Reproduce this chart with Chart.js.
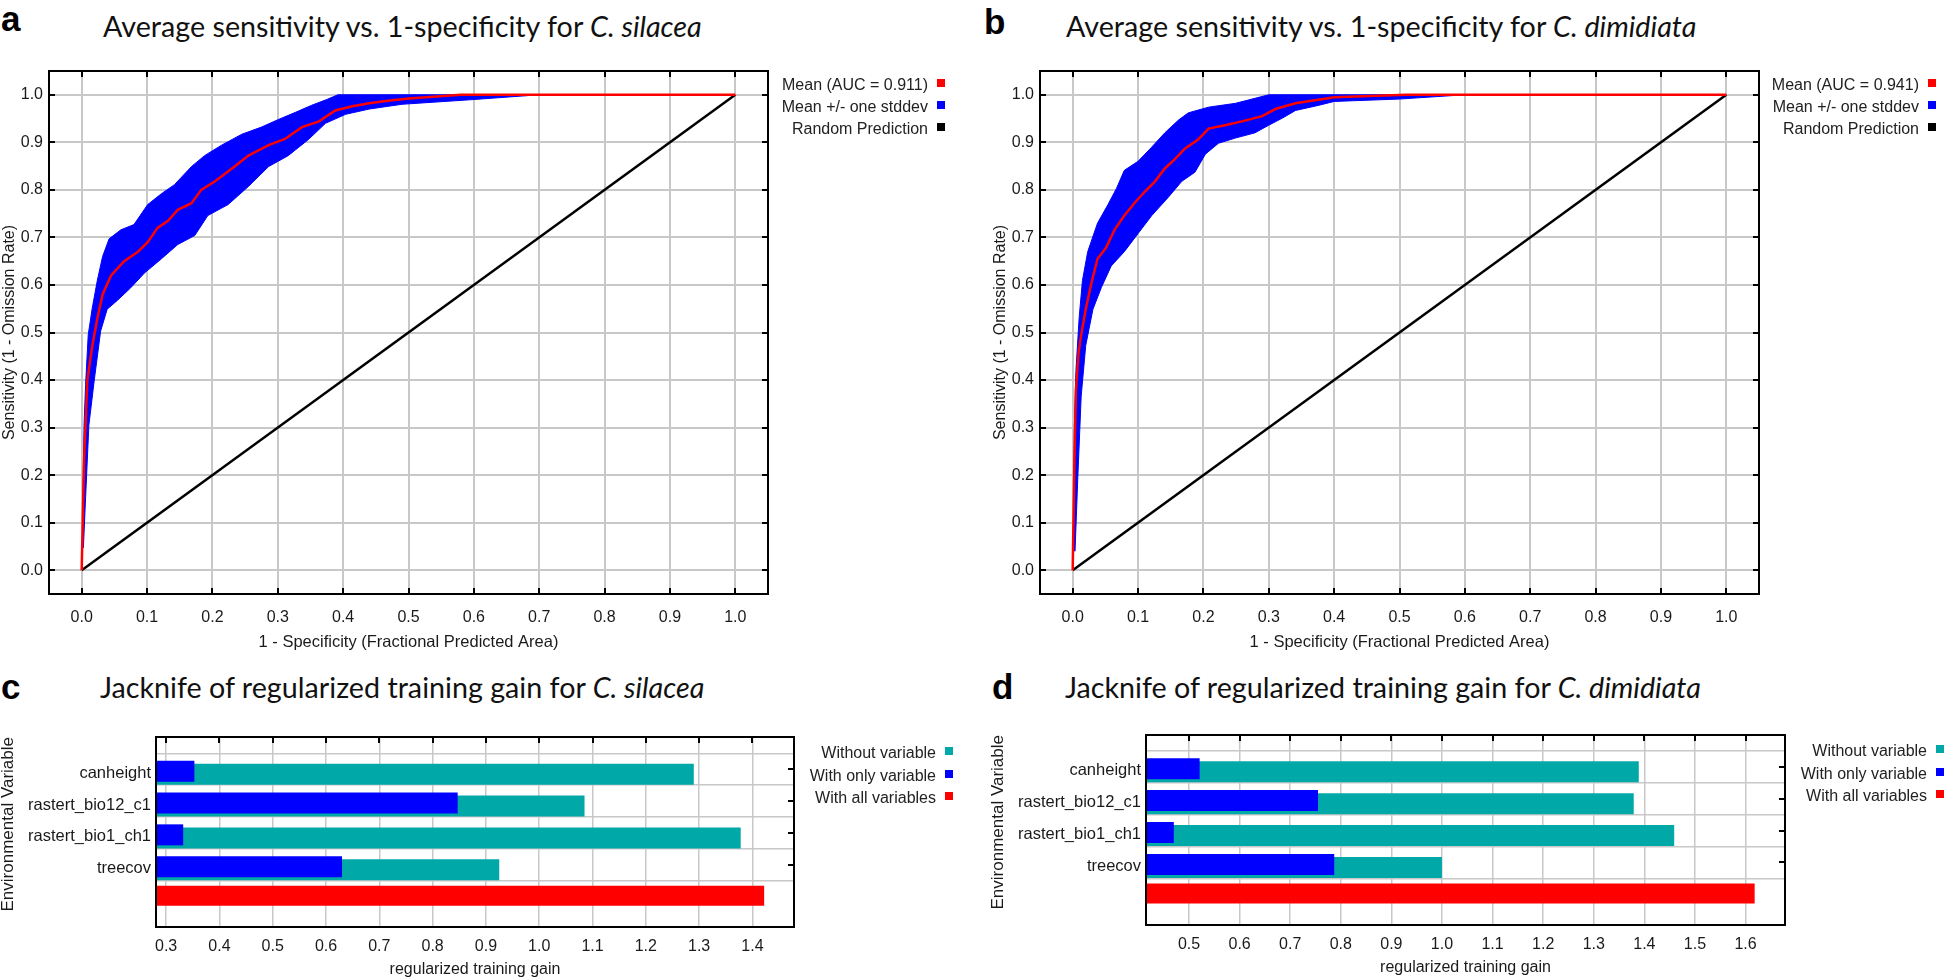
<!DOCTYPE html>
<html>
<head>
<meta charset="utf-8">
<title>ROC curves and jackknife of training gain</title>
<script src="https://cdn.jsdelivr.net/npm/chart.js@4.4.1/dist/chart.umd.min.js"></script>
<style>
  body { margin: 0; width: 1946px; height: 980px; background: #fff; position: relative; overflow: hidden;
         font-family: "Liberation Sans", Arial, sans-serif; color: #111; }
  canvas { position: absolute; }
  .tag { position: absolute; font: bold 35px/35px "Liberation Sans", Arial, sans-serif; color: #000; }
  .title { position: absolute; font: 28.7px/30px Lato, sans-serif; color: #111; white-space: nowrap; }
  .legend { position: absolute; width: 260px; text-align: right; font: 16px/22px "Liberation Sans", Arial, sans-serif;
            color: #222; white-space: nowrap; }
  .legend .sq { display: inline-block; width: 8px; height: 8px; margin-left: 9px; vertical-align: 3px; }
</style>
</head>
<body>

<div class="tag" style="left:1px;top:1px">a</div>
<div class="title" style="left:103px;top:11px">Average sensitivity vs. 1-specificity for <i>C. silacea</i></div>
<div class="tag" style="left:984px;top:4px">b</div>
<div class="title" style="left:1066px;top:11px">Average sensitivity vs. 1-specificity for <i>C. dimidiata</i></div>
<div class="tag" style="left:1px;top:669px">c</div>
<div class="title" style="left:100px;top:672px">Jacknife of regularized training gain for <i>C. silacea</i></div>
<div class="tag" style="left:992px;top:669px">d</div>
<div class="title" style="left:1065px;top:672px">Jacknife of regularized training gain for <i>C. dimidiata</i></div>

<canvas id="rocA" width="772" height="600" style="left:0;top:60px"></canvas>
<canvas id="rocB" width="772" height="600" style="left:991px;top:60px"></canvas>
<canvas id="jackC" width="800" height="280" style="left:0;top:700px"></canvas>
<canvas id="jackD" width="800" height="280" style="left:990px;top:700px"></canvas>

<div class="legend" id="legA" style="left:685px;top:74px"></div>
<div class="legend" id="legB" style="left:1676px;top:74px"></div>
<div class="legend" id="legC" style="left:693px;top:742px;line-height:22.5px"></div>
<div class="legend" id="legD" style="left:1684px;top:740px;line-height:22.5px"></div>

<script>
// ---- ROC panels (a, b) ----
const rocTicks = [0, 0.1, 0.2, 0.3, 0.4, 0.5, 0.6, 0.7, 0.8, 0.9, 1.0];
const rocTickLabels = ['0.0', '0.1', '0.2', '0.3', '0.4', '0.5', '0.6', '0.7', '0.8', '0.9', '1.0'];
const randomX = [0, 1];
const randomY = [0, 1];

const silaceaAuc = 0.911;
const silaceaMeanX = [0, 0.0036, 0.0087, 0.016, 0.024, 0.032, 0.045, 0.065, 0.086, 0.101, 0.116, 0.132, 0.147, 0.168,
  0.183, 0.204, 0.234, 0.255, 0.286, 0.311, 0.337, 0.363, 0.388, 0.414, 0.44, 0.465, 0.5, 0.58, 1.0];
const silaceaMeanY = [0, 0.23, 0.40, 0.47, 0.53, 0.58, 0.62, 0.65, 0.67, 0.69, 0.72, 0.735, 0.758, 0.772,
  0.80, 0.818, 0.849, 0.872, 0.894, 0.907, 0.932, 0.944, 0.967, 0.976, 0.982, 0.987, 0.992, 1.0, 1.0];
const silaceaUpX = [0.001, 0.0036, 0.006, 0.01, 0.016, 0.024, 0.032, 0.042, 0.06, 0.08, 0.101, 0.122, 0.142, 0.168,
  0.188, 0.214, 0.245, 0.275, 0.301, 0.327, 0.352, 0.375, 0.392, 0.70];
const silaceaUpY = [0.055, 0.305, 0.39, 0.495, 0.55, 0.61, 0.66, 0.697, 0.716, 0.727, 0.769, 0.792, 0.811, 0.849,
  0.872, 0.894, 0.917, 0.932, 0.948, 0.963, 0.978, 0.99, 1.0, 1.0];
const silaceaLoX = [0.0026, 0.006, 0.011, 0.019, 0.029, 0.039, 0.055, 0.075, 0.096, 0.122, 0.147, 0.173, 0.193, 0.224,
  0.255, 0.286, 0.316, 0.347, 0.373, 0.404, 0.44, 0.49, 0.6, 0.7];
const silaceaLoY = [0.047, 0.153, 0.305, 0.397, 0.503, 0.549, 0.568, 0.594, 0.625, 0.655, 0.685, 0.704, 0.746, 0.769,
  0.807, 0.849, 0.872, 0.906, 0.94, 0.959, 0.97, 0.98, 0.99, 1.0];

const dimidiataAuc = 0.941;
const dimidiataMeanX = [0, 0.0026, 0.005, 0.009, 0.013, 0.02, 0.028, 0.038, 0.051, 0.064, 0.079, 0.095, 0.11, 0.126,
  0.141, 0.156, 0.172, 0.192, 0.208, 0.233, 0.259, 0.29, 0.31, 0.341, 0.4, 0.51, 1.0];
const dimidiataMeanY = [0, 0.23, 0.38, 0.457, 0.495, 0.549, 0.60, 0.655, 0.678, 0.716, 0.746, 0.773, 0.796, 0.818,
  0.845, 0.864, 0.887, 0.906, 0.929, 0.936, 0.944, 0.955, 0.97, 0.982, 0.995, 1.0, 1.0];
const dimidiataUpX = [0.0015, 0.0026, 0.005, 0.01, 0.015, 0.023, 0.038, 0.054, 0.067, 0.079, 0.1, 0.121, 0.141, 0.162,
  0.177, 0.208, 0.249, 0.30, 0.60];
const dimidiataUpY = [0.04, 0.305, 0.42, 0.533, 0.61, 0.67, 0.73, 0.769, 0.803, 0.841, 0.86, 0.89, 0.92, 0.947,
  0.962, 0.974, 0.982, 1.0, 1.0];
const dimidiataLoX = [0.0036, 0.0077, 0.013, 0.02, 0.031, 0.044, 0.059, 0.079, 0.1, 0.121, 0.146, 0.167, 0.187, 0.203,
  0.223, 0.249, 0.279, 0.3, 0.321, 0.341, 0.377, 0.4, 0.5, 0.6];
const dimidiataLoY = [0.04, 0.19, 0.366, 0.473, 0.549, 0.595, 0.64, 0.67, 0.708, 0.746, 0.784, 0.818, 0.837, 0.875,
  0.898, 0.909, 0.92, 0.936, 0.951, 0.967, 0.978, 0.986, 0.991, 1.0];

// ---- jackknife panels (c, d) ----
const variables = ['canheight', 'rastert_bio12_c1', 'rastert_bio1_ch1', 'treecov'];

const silaceaWithout = [1.29, 1.085, 1.378, 0.925];
const silaceaOnly = [0.353, 0.847, 0.332, 0.63];
const silaceaAll = 1.422;
const silaceaGainTicks = [0.3, 0.4, 0.5, 0.6, 0.7, 0.8, 0.9, 1.0, 1.1, 1.2, 1.3, 1.4];
const silaceaGainLabels = ['0.3', '0.4', '0.5', '0.6', '0.7', '0.8', '0.9', '1.0', '1.1', '1.2', '1.3', '1.4'];

const dimidiataWithout = [1.389, 1.379, 1.459, 1.0];
const dimidiataOnly = [0.521, 0.755, 0.47, 0.787];
const dimidiataAll = 1.618;
const dimidiataGainTicks = [0.5, 0.6, 0.7, 0.8, 0.9, 1.0, 1.1, 1.2, 1.3, 1.4, 1.5, 1.6];
const dimidiataGainLabels = ['0.5', '0.6', '0.7', '0.8', '0.9', '1.0', '1.1', '1.2', '1.3', '1.4', '1.5', '1.6'];

const RED = '#ff0000', BLUE = '#0000ff', TEAL = '#00a8a8', BLACK = '#000000';

Chart.defaults.font.family = '"Liberation Sans", Arial, sans-serif';
Chart.defaults.color = '#1a1a1a';

const pts = (xs, ys) => xs.map((x, i) => ({ x: x, y: ys[i] }));

// black frame round the plot area, with short ticks pointing inwards
const framePlugin = {
  id: 'frame',
  afterDatasetsDraw(chart, args, opts) {
    const { ctx, chartArea: a } = chart;
    const xs = chart.scales.x, ys = chart.scales.y;
    const len = 6;
    ctx.save();
    ctx.strokeStyle = BLACK;
    ctx.lineWidth = 2;
    ctx.beginPath();
    xs.ticks.forEach(t => {
      const p = Math.round(xs.getPixelForValue(t.value));
      if (opts.top) { ctx.moveTo(p, a.top); ctx.lineTo(p, a.top + len); }
      if (opts.bottom) { ctx.moveTo(p, a.bottom); ctx.lineTo(p, a.bottom - len); }
    });
    ys.ticks.forEach(t => {
      const p = Math.round(ys.getPixelForValue(t.value));
      if (opts.left) { ctx.moveTo(a.left, p); ctx.lineTo(a.left + len, p); }
      if (opts.right) { ctx.moveTo(a.right, p); ctx.lineTo(a.right - len, p); }
    });
    ctx.stroke();
    ctx.strokeRect(a.left, a.top, a.right - a.left, a.bottom - a.top);
    ctx.restore();
  }
};

function fillLegend(id, items) {
  document.getElementById(id).innerHTML = items
    .map(it => '<div>' + it[0] + '<span class="sq" style="background:' + it[1] + '"></span></div>')
    .join('');
}

function rocChart(id, meanX, meanY, upX, upY, loX, loY, auc) {
  // band = upper edge forward, lower edge back
  const band = pts(upX, upY).concat(pts(loX, loY).reverse());
  const meanLabel = 'Mean (AUC = ' + auc.toFixed(3) + ')';
  new Chart(document.getElementById(id), {
    type: 'line',
    data: {
      datasets: [
        { label: meanLabel, data: pts(meanX, meanY), borderColor: RED, borderWidth: 2.5,
          pointRadius: 0, fill: false, clip: 0 },
        { label: 'Random Prediction', data: pts(randomX, randomY), borderColor: BLACK, borderWidth: 2.5,
          pointRadius: 0, fill: false, clip: 0 },
        { label: 'Mean +/- one stddev', data: band, borderColor: BLUE, borderWidth: 1, backgroundColor: BLUE,
          pointRadius: 0, fill: 'shape', clip: 0 }
      ]
    },
    options: {
      responsive: false,
      animation: false,
      events: [],
      layout: { padding: { top: 11, right: 4, left: 0, bottom: 0 } },
      plugins: {
        legend: { display: false },
        tooltip: { enabled: false },
        frame: { top: true, bottom: true, left: true, right: true }
      },
      scales: {
        x: {
          type: 'linear', min: -0.05, max: 1.05,
          afterBuildTicks: s => { s.ticks = rocTicks.map(v => ({ value: v })); },
          afterFit: s => { s.height = 66; s.paddingLeft = 0; s.paddingRight = 0; },
          grid: { color: '#c8c8c8', lineWidth: 2, drawTicks: false },
          border: { display: false },
          ticks: { padding: 14, maxRotation: 0, autoSkip: false, font: { size: 16 },
                   callback: (v, i) => rocTickLabels[i] },
          title: { display: true, text: '1 - Specificity (Fractional Predicted Area)', font: { size: 16.5 },
                   padding: { top: 0, bottom: 8 } }
        },
        y: {
          type: 'linear', min: -0.05, max: 1.05,
          afterBuildTicks: s => { s.ticks = rocTicks.map(v => ({ value: v })); },
          afterFit: s => { s.width = 49; s.paddingTop = 0; s.paddingBottom = 0; },
          grid: { color: '#c8c8c8', lineWidth: 2, drawTicks: false },
          border: { display: false },
          ticks: { padding: 6, autoSkip: false, font: { size: 16 }, callback: (v, i) => rocTickLabels[i] },
          title: { display: true, text: 'Sensitivity (1 - Omission Rate)', font: { size: 16 },
                   padding: { top: 0, bottom: 0 } }
        }
      }
    },
    plugins: [framePlugin]
  });
  return [[meanLabel, RED], ['Mean +/- one stddev', BLUE], ['Random Prediction', BLACK]];
}

function jackChart(id, without, only, all, ticks, tickLabels, xMin, xMax, yMin, yMax, pad) {
  // row i (from the top) sits at -i on the index axis; the two bars of a row are drawn a little apart
  const row = (vals, shift) => vals.map((v, i) => ({ x: v, y: -(i + shift) }));
  const rowTicks = variables.map((v, i) => -i).reverse();
  const common = { base: xMin, grouped: false, barPercentage: 10, categoryPercentage: 1, clip: 0, borderWidth: 0 };
  new Chart(document.getElementById(id), {
    type: 'bar',
    data: {
      datasets: [
        Object.assign({ label: 'With only variable', data: row(only, 0.06), backgroundColor: BLUE,
                        maxBarThickness: 21 }, common),
        Object.assign({ label: 'Without variable', data: row(without, 0.155), backgroundColor: TEAL,
                        maxBarThickness: 21 }, common),
        Object.assign({ label: 'With all variables', data: [{ x: all, y: -(variables.length - 0.03) }],
                        backgroundColor: RED, maxBarThickness: 20 }, common)
      ]
    },
    options: {
      indexAxis: 'y',
      responsive: false,
      animation: false,
      events: [],
      layout: { padding: { top: pad.top, right: pad.right, left: 0, bottom: 0 } },
      plugins: {
        legend: { display: false },
        tooltip: { enabled: false },
        frame: { top: true, right: true }
      },
      scales: {
        x: {
          type: 'linear', min: xMin, max: xMax,
          afterBuildTicks: s => { s.ticks = ticks.map(v => ({ value: v })); },
          afterFit: s => { s.height = pad.xAxis; s.paddingLeft = 0; s.paddingRight = 0; },
          grid: { color: '#c8c8c8', lineWidth: 1.5, drawTicks: false },
          border: { display: false },
          ticks: { padding: 10, maxRotation: 0, autoSkip: false, font: { size: 16 },
                   callback: (v, i) => tickLabels[i] },
          title: { display: true, text: 'regularized training gain', font: { size: 16 },
                   padding: { top: 0, bottom: pad.title } }
        },
        y: {
          type: 'linear', min: yMin, max: yMax,
          afterBuildTicks: s => { s.ticks = rowTicks.map(v => ({ value: v })); },
          afterFit: s => { s.width = 156; s.paddingTop = 0; s.paddingBottom = 0; },
          grid: { color: '#c8c8c8', lineWidth: 1.5, drawTicks: false },
          border: { display: false },
          ticks: { padding: 5, labelOffset: 4, autoSkip: false, font: { size: 16.5 },
                   callback: v => variables[Math.abs(v)] },
          title: { display: true, text: 'Environmental Variable', align: 'end',
                   font: { size: 17, lineHeight: 1 }, padding: { top: 0, bottom: 0 } }
        }
      }
    },
    plugins: [framePlugin]
  });
  return [['Without variable', TEAL], ['With only variable', BLUE], ['With all variables', RED]];
}

fillLegend('legA', rocChart('rocA', silaceaMeanX, silaceaMeanY, silaceaUpX, silaceaUpY, silaceaLoX, silaceaLoY, silaceaAuc));
fillLegend('legB', rocChart('rocB', dimidiataMeanX, dimidiataMeanY, dimidiataUpX, dimidiataUpY, dimidiataLoX, dimidiataLoY, dimidiataAuc));
fillLegend('legC', jackChart('jackC', silaceaWithout, silaceaOnly, silaceaAll, silaceaGainTicks, silaceaGainLabels,
  0.281, 1.478, -4.207, 0.266, { top: 37, right: 6, xAxis: 53, title: 1 }));
fillLegend('legD', jackChart('jackD', dimidiataWithout, dimidiataOnly, dimidiataAll, dimidiataGainTicks, dimidiataGainLabels,
  0.415, 1.678, -4.215, 0.252, { top: 35, right: 5, xAxis: 55, title: 3 }));
</script>
</body>
</html>
